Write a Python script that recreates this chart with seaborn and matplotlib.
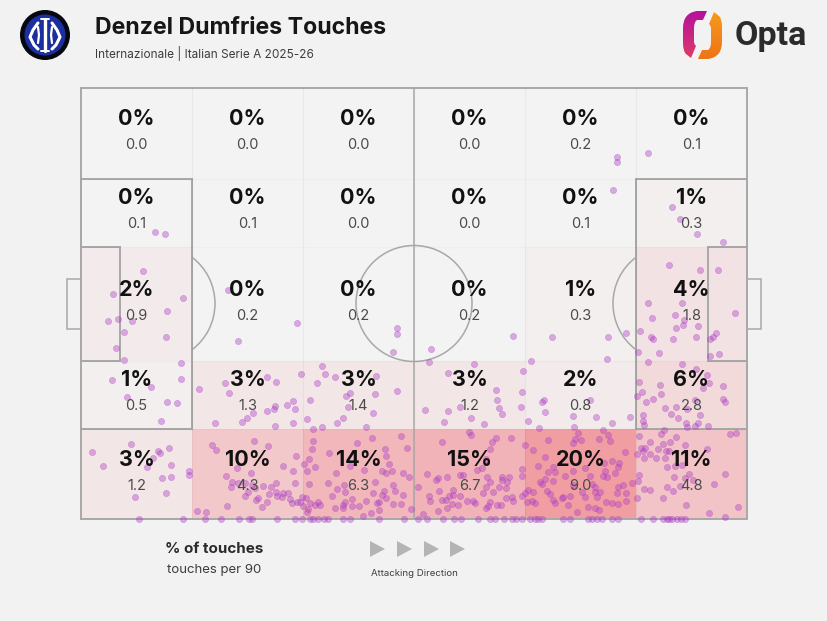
import matplotlib
matplotlib.use('Agg')
import matplotlib.pyplot as plt
import numpy as np
import pandas as pd
import seaborn as sns
from matplotlib.colors import LinearSegmentedColormap
from matplotlib.patches import Arc, Circle, PathPatch, Polygon, Rectangle
from matplotlib.path import Path

TITLE = 'Denzel Dumfries Touches'
SUBTITLE = 'Internazionale | Italian Serie A 2025-26'

# pitch units, left to right and bottom to top
PITCH_LENGTH = 666
PITCH_WIDTH = 431
col_edges = [0, 111, 222, 333, 444, 555, 666]
row_edges = [0, 90, 158, 272, 340, 431]

# bottom row first
touch_pct = [
    [3, 10, 14, 15, 20, 11],
    [1, 3, 3, 3, 2, 6],
    [2, 0, 0, 0, 1, 4],
    [0, 0, 0, 0, 0, 1],
    [0, 0, 0, 0, 0, 0],
]
touches_per_90 = [
    [1.2, 4.3, 6.3, 6.7, 9.0, 4.8],
    [0.5, 1.3, 1.4, 1.2, 0.8, 2.8],
    [0.9, 0.2, 0.2, 0.2, 0.3, 1.8],
    [0.1, 0.1, 0.0, 0.0, 0.1, 0.3],
    [0.0, 0.0, 0.0, 0.0, 0.2, 0.1],
]

left_box = [(62, 248), (32, 225), (102, 221), (86, 208), (27, 198), (37, 200), (51, 198), (43, 187), (85, 182),
            (35, 171), (43, 159), (100, 156), (31, 139), (100, 140), (70, 132), (46, 122), (86, 117), (96, 116),
            (80, 98), (50, 75), (11, 67), (77, 68), (79, 66), (88, 71), (22, 53), (72, 61), (66, 52), (90, 54),
            (108, 48), (108, 44), (81, 41), (90, 42), (54, 22), (85, 26), (74, 287), (84, 285),
            (147, 229), (216, 196), (157, 178)]
row4_left = [(118, 130), (144, 136), (148, 126), (186, 142), (195, 137), (220, 145), (241, 153), (244, 145),
             (254, 142), (236, 136), (229, 119), (212, 118), (206, 114), (214, 110), (194, 113), (193, 110),
             (186, 108), (172, 106), (166, 101), (161, 97), (134, 96), (194, 93), (212, 96), (226, 100),
             (256, 96), (232, 90), (241, 92)]
row5_second = [(131, 74), (135, 69), (173, 78), (187, 73), (215, 63), (202, 53), (212, 48), (223, 55), (228, 60),
               (234, 52), (226, 48), (156, 51), (170, 46), (145, 43), (151, 37), (150, 32), (157, 36), (164, 36),
               (171, 34), (195, 36), (214, 36), (228, 35), (190, 32), (182, 33), (174, 31), (164, 23), (167, 27),
               (177, 21), (175, 19), (186, 17), (181, 12), (146, 13), (116, 8), (125, 7), (188, 25), (195, 27),
               (196, 23), (202, 26), (207, 26), (201, 22), (209, 20), (225, 21), (211, 16), (216, 17), (222, 13),
               (229, 16), (227, 10), (234, 14), (237, 17), (226, 7)]
middle_upper = [(316, 191), (316, 185), (312, 167), (350, 170), (348, 157), (432, 183), (393, 155), (450, 158),
                (265, 123), (269, 126), (295, 143), (294, 125), (316, 128), (267, 112), (292, 106), (262, 101),
                (285, 92), (367, 146), (442, 148), (415, 129), (441, 127), (416, 119), (440, 112), (418, 111),
                (421, 105), (379, 112), (367, 108), (344, 109), (390, 101), (363, 97), (403, 95), (447, 98)]
row5_third = [(232, 78), (231, 70), (276, 76), (291, 81), (320, 83), (326, 71), (304, 70), (305, 63), (248, 66),
              (269, 53), (283, 49), (255, 46), (301, 48), (305, 46), (308, 55), (311, 48), (322, 46), (328, 42),
              (247, 36), (256, 30), (263, 34), (294, 37), (312, 34), (264, 27), (251, 23), (292, 26), (303, 28),
              (314, 28), (322, 24), (301, 24), (305, 21), (221, 22), (219, 17), (239, 14), (264, 17), (262, 14),
              (271, 20), (271, 13), (278, 13), (285, 18), (298, 17), (296, 16), (312, 15), (320, 15), (254, 11),
              (282, 3), (290, 6), (298, 9), (262, 11), (330, 10)]
row5_fourth = [(388, 87), (390, 84), (361, 77), (415, 81), (411, 77), (430, 81), (409, 70), (405, 60), (396, 49),
               (401, 51), (346, 45), (357, 41), (355, 39), (366, 42), (379, 44), (382, 44), (406, 42), (421, 42),
               (428, 42), (409, 37), (421, 39), (426, 37), (337, 32), (405, 32), (418, 32), (425, 31), (358, 28),
               (372, 29), (402, 26), (412, 27), (372, 24), (368, 23), (379, 23), (348, 23), (349, 18), (361, 19),
               (365, 19), (386, 18), (392, 18), (394, 16), (409, 17), (407, 13), (405, 11), (416, 14), (420, 14),
               (431, 22), (425, 21), (432, 18), (446, 17), (377, 14), (371, 15), (366, 11), (357, 8), (342, 5)]
row5_fifth = [(458, 91), (493, 92), (522, 89), (527, 84), (529, 78), (497, 86), (500, 79), (494, 80), (492, 76),
              (518, 80), (467, 79), (444, 74), (452, 69), (464, 62), (544, 67), (538, 56), (537, 52), (457, 53),
              (472, 52), (467, 47), (474, 47), (441, 50), (441, 43), (464, 40), (472, 38), (459, 37), (461, 35),
              (484, 43), (492, 48), (504, 51), (509, 43), (523, 56), (531, 58), (524, 48), (534, 46), (522, 43),
              (526, 42), (551, 36), (542, 34), (537, 32), (536, 26), (545, 26), (545, 18), (511, 35), (514, 32),
              (492, 34), (514, 27), (519, 27), (516, 22), (504, 22), (501, 27), (447, 29), (452, 27), (444, 26),
              (441, 23), (466, 28), (469, 25), (472, 19), (474, 16), (482, 22), (489, 23), (481, 21), (487, 14),
              (451, 18), (454, 16), (525, 17), (531, 16), (537, 15), (507, 12), (514, 11), (518, 9), (496, 7)]
row5_sixth = [(583, 89), (558, 83), (569, 77), (580, 85), (595, 82), (589, 77), (582, 75), (604, 74), (560, 71),
              (564, 71), (562, 68), (556, 65), (569, 65), (577, 70), (585, 68), (588, 68), (584, 61), (575, 61),
              (563, 61), (626, 70), (649, 85), (655, 86), (586, 52), (594, 53), (601, 54), (558, 44), (593, 42),
              (608, 45), (644, 45), (557, 38), (563, 30), (569, 29), (586, 32), (592, 28), (599, 33), (604, 41),
              (612, 39), (633, 35), (556, 21), (582, 21), (605, 14), (628, 6), (657, 12), (644, 2)]
row4_right = [(557, 167), (578, 166), (567, 157), (601, 155), (615, 150), (626, 144), (628, 136), (622, 131),
              (629, 163), (638, 165), (558, 137), (579, 134), (580, 125), (561, 127), (556, 123), (565, 117),
              (572, 120), (642, 133), (642, 120), (644, 117), (584, 111), (595, 112), (606, 110), (590, 105),
              (619, 104), (597, 101), (562, 104), (562, 98), (563, 94), (605, 96), (606, 92), (617, 96), (614, 93),
              (627, 93), (614, 119)]
right_upper = [(536, 362), (536, 357), (567, 366), (532, 329), (591, 312), (599, 300), (616, 285), (642, 277),
               (588, 254), (619, 249), (637, 249), (567, 216), (601, 216), (571, 201), (594, 204), (603, 199),
               (602, 194), (617, 193), (595, 191), (559, 188), (570, 182), (572, 180), (592, 180), (615, 182),
               (629, 180), (632, 182), (635, 186), (654, 206), (471, 182), (527, 182), (545, 186), (526, 160),
               (463, 119), (461, 117), (464, 107), (492, 103), (509, 119), (515, 102), (531, 96), (549, 102)]
# touches sitting right on the touchline
touchline_x = [58, 102, 124, 140, 158, 168, 171, 196, 214, 221, 229, 237, 232, 243, 247, 262, 269, 298, 323, 337,
               346, 362, 373, 380, 397, 409, 414, 423, 431, 435, 441, 449, 454, 457, 461, 482, 489, 507, 511, 516,
               521, 531, 537, 560, 572, 582, 586, 588, 591, 596, 600, 604]

BG = '#f2f2f2'
LINE = '#a8a8a8'
cmap = LinearSegmentedColormap.from_list('touches', ['#f3f3f3', '#f19ea3'])

sns.set_theme(style='white', rc={'figure.facecolor': BG, 'axes.facecolor': BG, 'savefig.facecolor': BG})
plt.rcParams['font.family'] = ['Inter', 'DejaVu Sans']


def draw_pitch(ax):
    line = {'color': LINE, 'lw': 1.4, 'clip_on': False, 'fill': False}
    ax.vlines(col_edges[1:-1], 0, PITCH_WIDTH, color='#000000', alpha=0.04, lw=0.9)
    ax.hlines(row_edges[1:-1], 0, PITCH_LENGTH, color='#000000', alpha=0.02, lw=0.9)
    ax.add_patch(Rectangle((0, 0), PITCH_LENGTH, PITCH_WIDTH, **line))
    ax.plot([333, 333], [0, PITCH_WIDTH], color=LINE, lw=1.1)
    ax.add_patch(Circle((333, 215.5), 58, color=LINE, lw=1.1, fill=False))
    for x, sign in [(0, 1), (PITCH_LENGTH, -1)]:
        ax.add_patch(Rectangle((x, 90), sign * 111, 250, **line))
        ax.add_patch(Rectangle((x, 158), sign * 39, 114, **line))
        ax.add_patch(Rectangle((x, 190.5), -sign * 14, 50, color=LINE, lw=1.1, fill=False, clip_on=False))
        theta = (-53, 53) if sign == 1 else (127, 233)
        ax.add_patch(Arc((x + sign * 76, 215.5), 116, 116, theta1=theta[0], theta2=theta[1], color=LINE, lw=1.1))


def draw_inter_crest(ax):
    cx, cy = 45, 35
    ax.add_patch(Circle((cx, cy), 25, color='#06070f', lw=0))
    ax.add_patch(Circle((cx, cy), 20.5, color='#1b2f9e', lw=0))
    white = {'color': 'white', 'solid_capstyle': 'round'}
    ax.plot([cx, cx], [cy - 16, cy + 16], lw=2.4, **white)
    ax.plot([cx - 4, cx + 4], [cy - 16, cy - 16], lw=1.4, **white)
    ax.plot([cx - 4, cx + 4], [cy + 16, cy + 16], lw=1.4, **white)
    ax.plot([cx - 7, cx - 12, cx - 15, cx - 11, cx - 7], [cy - 12, cy - 5, cy + 2, cy + 10, cy + 14], lw=2.2, **white)
    ax.plot([cx + 7, cx + 12, cx + 15, cx + 11, cx + 7], [cy - 12, cy - 5, cy + 2, cy + 10, cy + 14], lw=2.2, **white)
    ax.plot([cx - 7, cx - 6, cx - 7], [cy - 8, cy, cy + 8], lw=1.6, **white)
    ax.plot([cx + 7, cx + 6, cx + 7], [cy - 8, cy, cy + 8], lw=1.6, **white)


def draw_opta_logo(ax):
    verts = np.array([(707, 11), (697, 11), (683, 13), (683, 28), (683, 43), (683, 51), (686, 54), (691, 58),
                      (696, 46), (694, 44), (694, 42), (694, 28), (694, 22), (697, 20), (703, 20), (707, 11)], float)
    codes = [Path.MOVETO, Path.LINETO, Path.CURVE3, Path.CURVE3, Path.LINETO, Path.CURVE3, Path.CURVE3, Path.LINETO,
             Path.LINETO, Path.CURVE3, Path.CURVE3, Path.LINETO, Path.CURVE3, Path.CURVE3, Path.LINETO, Path.CLOSEPOLY]
    centre = np.array([702.5, 35.0])
    pieces = [(verts, ['#b5129c', '#dd3a6a'], (683, 708, 59, 11)),
              (2 * centre - verts, ['#f79a1c', '#ee7418'], (697, 722, 59, 11))]
    for piece, colours, extent in pieces:
        patch = PathPatch(Path(piece, codes), fc='none', ec='none')
        ax.add_patch(patch)
        gradient = np.linspace(0, 1, 64).reshape(-1, 1)
        image = ax.imshow(gradient, extent=extent, aspect='auto', origin='upper',
                          cmap=LinearSegmentedColormap.from_list('opta', colours))
        image.set_clip_path(patch)
    ax.text(735, 36, 'Opta', fontsize=24.5, fontweight='bold', color='#2b2b2b', va='center', ha='left',
            family=['Roboto', 'DejaVu Sans'])


fig = plt.figure(figsize=(8.28, 6.21), dpi=100)

# page layer in image pixels, for the two logos and the direction arrows
page = fig.add_axes([0, 0, 1, 1], zorder=0)
draw_inter_crest(page)
draw_opta_logo(page)
for left in [370, 397, 424, 450]:
    page.add_patch(Polygon([(left, 541), (left + 15, 549), (left, 557)], color='#b4b4b4', lw=0))
page.set(xlim=(0, 828), ylim=(621, 0))
page.axis('off')

ax = fig.add_axes([81 / 828, 1 - 519 / 621, 666 / 828, 431 / 621], zorder=1)
ax.patch.set_alpha(0)
ax.pcolormesh(col_edges, row_edges, np.array(touch_pct), cmap=cmap, vmin=0, vmax=20, linewidth=0)
draw_pitch(ax)

zones = [left_box, row4_left, row5_second, middle_upper, row5_third, row5_fourth, row5_fifth, row5_sixth,
         row4_right, right_upper]
touches = pd.DataFrame([p for zone in zones for p in zone], columns=['x', 'y'])
touches = pd.concat([touches, pd.DataFrame({'x': touchline_x, 'y': 0})], ignore_index=True)
sns.scatterplot(data=touches, x='x', y='y', ax=ax, s=20, color='#b03cc8', alpha=0.4, edgecolor='#9a35b5',
                linewidth=0.4, clip_on=False, zorder=3, legend=False)

for r, (y0, y1) in enumerate(zip(row_edges[:-1], row_edges[1:])):
    for c, (x0, x1) in enumerate(zip(col_edges[:-1], col_edges[1:])):
        xc, yc = (x0 + x1) / 2, (y0 + y1) / 2
        ax.text(xc, yc + 14.5, f'{touch_pct[r][c]}%', ha='center', va='center', fontsize=15.5, fontweight='bold',
                color='#111111', zorder=4)
        ax.text(xc, yc - 11.5, f'{touches_per_90[r][c]:.1f}', ha='center', va='center', fontsize=10.5,
                color='#4a4a4a', zorder=4)

ax.set(xlim=(0, PITCH_LENGTH), ylim=(0, PITCH_WIDTH), xlabel='', ylabel='', xticks=[], yticks=[])
sns.despine(ax=ax, left=True, bottom=True)

fig.text(95 / 828, 1 - 28.5 / 621, TITLE, fontsize=16.6, fontweight='bold', color='#161616', va='center')
fig.text(95 / 828, 1 - 53.5 / 621, SUBTITLE, fontsize=8.5, color='#3d3d3d', va='center')
fig.text(214 / 828, 1 - 549 / 621, '% of touches', fontsize=10.9, fontweight='bold', color='#2a2a2a',
         ha='center', va='center')
fig.text(214 / 828, 1 - 570 / 621, 'touches per 90', fontsize=9.5, color='#3d3d3d', ha='center', va='center')
fig.text(414 / 828, 1 - 573 / 621, 'Attacking Direction', fontsize=6.9, color='#3d3d3d', ha='center', va='center')

fig.savefig('out.png', dpi=100)
